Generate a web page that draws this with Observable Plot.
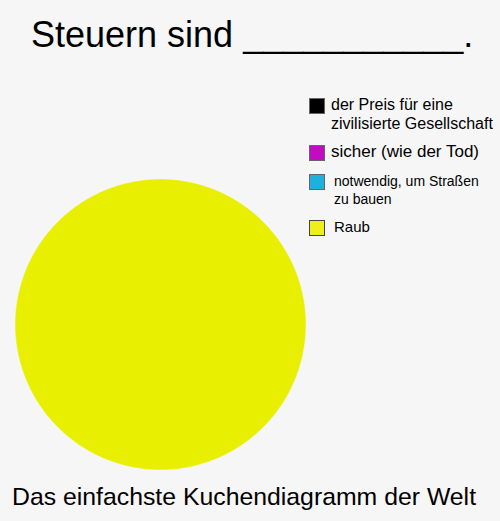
<!DOCTYPE html>
<html>
<head>
<meta charset="utf-8">
<script src="https://cdn.jsdelivr.net/npm/d3@7"></script>
<script src="https://cdn.jsdelivr.net/npm/@observablehq/plot@0.6"></script>
<style>
  html, body { margin: 0; padding: 0; background: #f6f6f6; }
  #wrap { position: relative; width: 500px; height: 521px; background: #f6f6f6; font-family: "Liberation Sans", Arial, sans-serif; overflow: hidden; }
  #title { position: absolute; left: 31px; top: 13px; font-size: 36px; color: #000; white-space: nowrap; line-height: 44px; }
  #chart { position: absolute; left: 0; top: 70px; }
  #caption { position: absolute; left: 12px; top: 482px; font-size: 24.8px; color: #000; white-space: nowrap; line-height: 30px; }
  #legend { position: absolute; left: 309px; top: 98px; }
  .item { position: absolute; left: 0; white-space: nowrap; color: #000; }
  .sw { position: absolute; left: 0; top: 0; width: 14px; height: 14px; border: 1px solid #666; }
  .lab { position: absolute; white-space: nowrap; }
</style>
</head>
<body>
<div id="wrap">
  <div id="title"></div>
  <div id="chart"></div>
  <div id="legend"></div>
  <div id="caption"></div>
</div>
<script>
const titleText = "Steuern sind ___________.";
const captionText = "Das einfachste Kuchendiagramm der Welt";
const categories = ["der Preis für eine zivilisierte Gesellschaft", "sicher (wie der Tod)", "notwendig, um Straßen zu bauen", "Raub"];
const legendLines = [["der Preis für eine", "zivilisierte Gesellschaft"], ["sicher (wie der Tod)"], ["notwendig, um Straßen", "zu bauen"], ["Raub"]];
const values = [0, 0, 0, 100];
const sliceColors = ["#000000", "#c20cc4", "#1fb1dc", "#e8ef00"];
const swatchColors = ["#000000", "#c20cc4", "#1fb1dc", "#eef01c"];

document.getElementById("title").textContent = titleText;
document.getElementById("caption").textContent = captionText;

// Pie geometry from data via d3.pie
const arcs = d3.pie().sort(null).value(d => d.value)(categories.map((c, i) => ({category: c, value: values[i]})));
const pts = [];
for (const a of arcs) {
  if (a.endAngle - a.startAngle <= 0) continue;
  const n = Math.max(2, Math.ceil((a.endAngle - a.startAngle) / (Math.PI / 360)));
  const full = (a.endAngle - a.startAngle) >= 2 * Math.PI - 1e-9;
  if (!full) pts.push({category: a.data.category, x: 0, y: 0});
  for (let k = 0; k <= n; k++) {
    const t = a.startAngle + (a.endAngle - a.startAngle) * k / n;
    pts.push({category: a.data.category, x: Math.sin(t), y: Math.cos(t)});
  }
}

const chart = Plot.plot({
  width: 500,
  height: 405,
  marginLeft: 15,
  marginRight: 195,
  marginTop: 109,
  marginBottom: 6,
  style: {background: "transparent"},
  x: {domain: [-1, 1], axis: null},
  y: {domain: [-1, 1], axis: null},
  color: {domain: categories, range: sliceColors},
  marks: [
    Plot.line(pts, {x: "x", y: "y", z: "category", fill: "category", stroke: "category", strokeWidth: 0.5, curve: "linear-closed"})
  ]
});
document.getElementById("chart").appendChild(chart);

// Legend
const legendTops = [0, 47, 76, 122];
const labelStyles = [
  {left: 22, top: -3, size: 16, lh: 19},
  {left: 22, top: -3, size: 17, lh: 19},
  {left: 25, top: -2, size: 14, lh: 18},
  {left: 25, top: -2, size: 15, lh: 18}
];
const legend = document.getElementById("legend");
categories.forEach((c, i) => {
  const item = document.createElement("div");
  item.className = "item";
  item.style.top = legendTops[i] + "px";
  const sw = document.createElement("div");
  sw.className = "sw";
  sw.style.background = swatchColors[i];
  if (i === 3) sw.style.borderColor = "#444";
  item.appendChild(sw);
  const lab = document.createElement("div");
  lab.className = "lab";
  const s = labelStyles[i];
  lab.style.left = s.left + "px";
  lab.style.top = s.top + "px";
  lab.style.fontSize = s.size + "px";
  lab.style.lineHeight = s.lh + "px";
  lab.innerHTML = legendLines[i].join("<br>");
  item.appendChild(lab);
  legend.appendChild(item);
});
</script>
</body>
</html>
